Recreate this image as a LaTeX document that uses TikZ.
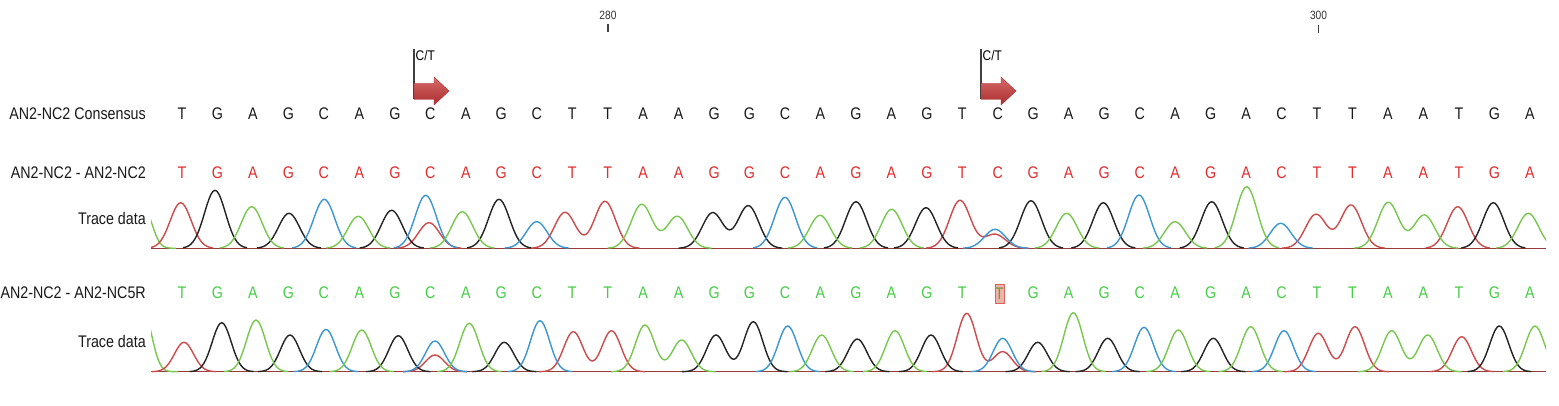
\documentclass[tikz,border=0pt]{standalone}
\usepackage{fontspec}
\setmainfont{Liberation Sans}[FakeStretch=0.85]
\definecolor{seqred}{RGB}{226,45,45}
\definecolor{seqgreen}{RGB}{70,205,70}
\definecolor{trred}{RGB}{205,75,75}
\definecolor{trgreen}{RGB}{120,200,80}
\definecolor{trblue}{RGB}{60,150,210}
\definecolor{trblack}{RGB}{35,35,35}
\definecolor{trbase}{RGB}{150,60,60}
\definecolor{arrtop}{RGB}{215,105,105}
\definecolor{arrbot}{RGB}{170,45,45}
\definecolor{hlfill}{RGB}{238,180,170}
\definecolor{hldraw}{RGB}{215,100,95}
\definecolor{hltext}{RGB}{120,150,60}
\newcommand\trbl{248.3}
\newcommand\trsig{10.5}
\newcommand\pkpair[5]{%
  \pgfmathsetmacro\pka{#2-34}\pgfmathsetmacro\pkb{#4+34}%
  \draw[trace,#1] plot[domain=\pka:\pkb, samples=60] (\x,{\trbl-#3*exp(-((\x-#2)/\trsig)^2/2)-#5*exp(-((\x-#4)/\trsig)^2/2)});}
\newcommand\pksingle[3]{%
  \pgfmathsetmacro\pka{#2-32}\pgfmathsetmacro\pkb{#2+32}%
  \draw[trace,#1] plot[domain=\pka:\pkb, samples=33] (\x,{\trbl-#3*exp(-((\x-#2)/\trsig)^2/2)});}
\newcommand\ctmarker[2]{%
  \begin{scope}[xshift=#2pt]
    \node[ctlab] (#1) at (1.5,55) {C/T};
    \draw[tickline] (0,49) -- (0,99.5);
    \shade[top color=arrtop, bottom color=arrbot, draw=arrbot, line width=0.4pt]
      (0,83.5) -- (20,83.5) -- (20,77) -- (35,91) -- (20,105) -- (20,99.5) -- (0,99.5) -- cycle;
  \end{scope}}
\begin{document}
\begin{tikzpicture}[x=1pt,y=-1pt,
  lab/.style={anchor=east, inner sep=0pt, font=\fontsize{16.8}{17}\selectfont, text=black!90},
  base/.style={inner sep=0pt, font=\fontsize{16.8}{17}\selectfont},
  cons/.style={base, text=black!90},
  refb/.style={base, text=seqred},
  smpb/.style={base, text=seqgreen},
  ctlab/.style={anchor=west, inner sep=0pt, font=\fontsize{14}{14}\selectfont},
  poslab/.style={inner sep=0pt, font=\fontsize{12}{12}\selectfont, text=black!80},
  tickline/.style={draw=black!75, line width=1.2pt},
  trace/.style={line width=1.4pt, line join=round},
  baseln/.style={draw=trbase, line width=1.5pt}]
\useasboundingbox (0,0) rectangle (1559,406);
\fill[white] (0,0) rectangle (1559,406);

% position ruler
\node[poslab] (p280) at (608,15) {280};
\draw[tickline] (608,24) -- (608,32);
\node[poslab] (p300) at (1318.5,15) {300};
\draw[tickline] (1318.5,25) -- (1318.5,33);

% C/T markers
\ctmarker{ct1}{414}
\ctmarker{ct2}{981}

% row labels
\node[lab] (lcons) at (146,114) {AN2-NC2 Consensus};
\node[lab] (lref) at (146,172.3) {AN2-NC2 - AN2-NC2};
\node[lab] (ltr1) at (146,218.3) {Trace data};
\node[lab] (lsmp) at (146,292.7) {AN2-NC2 - AN2-NC5R};
\node[lab] (ltr2) at (146,341.7) {Trace data};

% sequences
\def\seq{T,G,A,G,C,A,G,C,A,G,C,T,T,A,A,G,G,C,A,G,A,G,T,C,G,A,G,C,A,G,A,C,T,T,A,A,T,G,A}
\foreach \b [count=\i] in \seq {
  \pgfmathsetmacro\xx{182+(\i-1)*35.47}
  \node[cons] (k\i) at (\xx,114) {\b};
  \node[refb] (r\i) at (\xx,172.3) {\b};
  \ifnum\i=24\relax\else
    \node[smpb] (g\i) at (\xx,292.7) {\b};
  \fi
}
\node[draw=hldraw, fill=hlfill, line width=0.8pt, minimum width=9pt, minimum height=19pt, inner sep=0pt,
  font=\fontsize{16.8}{17}\selectfont, text=hltext] (g24) at (999.5,293.5) {T};

% ---------- trace 1 ----------
\begin{scope}
\clip (151,150) rectangle (1546,260);
\draw[baseln] (151,\trbl) -- (1546,\trbl);
% green tail
\draw[trace,trgreen] plot[domain=150:176, samples=14] (\x,{\trbl-40*exp(-((\x-144)/8)^2/2)});
% red (T)
\pksingle{trred}{180.7}{45.6}
\pksingle{trred}{429}{25.6}
\pkpair{trred}{565}{36}{605}{47}
\pkpair{trred}{960}{48}{995}{14}
\pkpair{trred}{1316}{34}{1351}{43.3}
\pksingle{trred}{1457.7}{41.6}
% black (G)
\foreach \px/\ph in {215/58, 289/35, 391.7/38, 499/49, 856/46.6, 926/40.6, 1031/47.6, 1103.3/45.6, 1211.7/46.6, 1493.3/45.6}
  {\pksingle{trblack}{\px}{\ph}}
\pkpair{trblack}{712.7}{35.6}{748.3}{42.6}
% blue (C)
\foreach \px/\ph in {324.3/49, 425.7/53, 536.7/26.6, 785/51, 995/19, 1139/53.3, 1280.7/25}
  {\pksingle{trblue}{\px}{\ph}}
% green (A)
\foreach \px/\ph in {251.7/41.6, 358.3/32, 462.3/36.6, 820/33, 891.7/39, 1066.7/35, 1175/26.6, 1246.7/61.6, 1528.3/35}
  {\pksingle{trgreen}{\px}{\ph}}
\pkpair{trgreen}{641.7}{44}{677.3}{32}
\pkpair{trgreen}{1388.3}{46}{1424.3}{33.3}
\end{scope}

% ---------- trace 2 ----------
\renewcommand\trbl{371.7}
\renewcommand\trsig{9.5}
\begin{scope}
\clip (151,290) rectangle (1546,385);
\draw[baseln] (151,\trbl) -- (1546,\trbl);
\draw[trace,trgreen] plot[domain=150:178, samples=15] (\x,{\trbl-58*exp(-((\x-144)/8)^2/2)});
% red (T)
\pksingle{trred}{184}{29.4}
\pksingle{trred}{435}{16.7}
\pkpair{trred}{573.3}{40}{611.5}{41}
\pkpair{trred}{966.7}{58.4}{1002.7}{20}
\pkpair{trred}{1318.3}{38.4}{1355}{45}
\pksingle{trred}{1461.7}{35}
% black (G)
\foreach \px/\ph in {221.7/49, 290/36.7, 398.3/36, 504.3/29.4, 857.3/32.7, 931/36.7, 1037.7/29.4, 1107.7/33.4, 1213.3/33.4, 1499.3/45.7}
  {\pksingle{trblack}{\px}{\ph}}
\pkpair{trblack}{716}{36.7}{753.3}{50}
% blue (C)
\foreach \px/\ph in {326/42.3, 435/30.7, 540/51, 787.7/45.7, 1002.7/33.4, 1144/44.4, 1284/41}
  {\pksingle{trblue}{\px}{\ph}}
% green (A)
\foreach \px/\ph in {256/51.7, 361.7/41.7, 469.3/48.4, 821.7/36.7, 895/41, 1073.3/59, 1178.3/41.7, 1250.7/45, 1535/45.7}
  {\pksingle{trgreen}{\px}{\ph}}
\pkpair{trgreen}{645}{46.7}{681.7}{31.7}
\pkpair{trgreen}{1391.7}{41}{1427.7}{36.7}
\end{scope}
\end{tikzpicture}
\end{document}
